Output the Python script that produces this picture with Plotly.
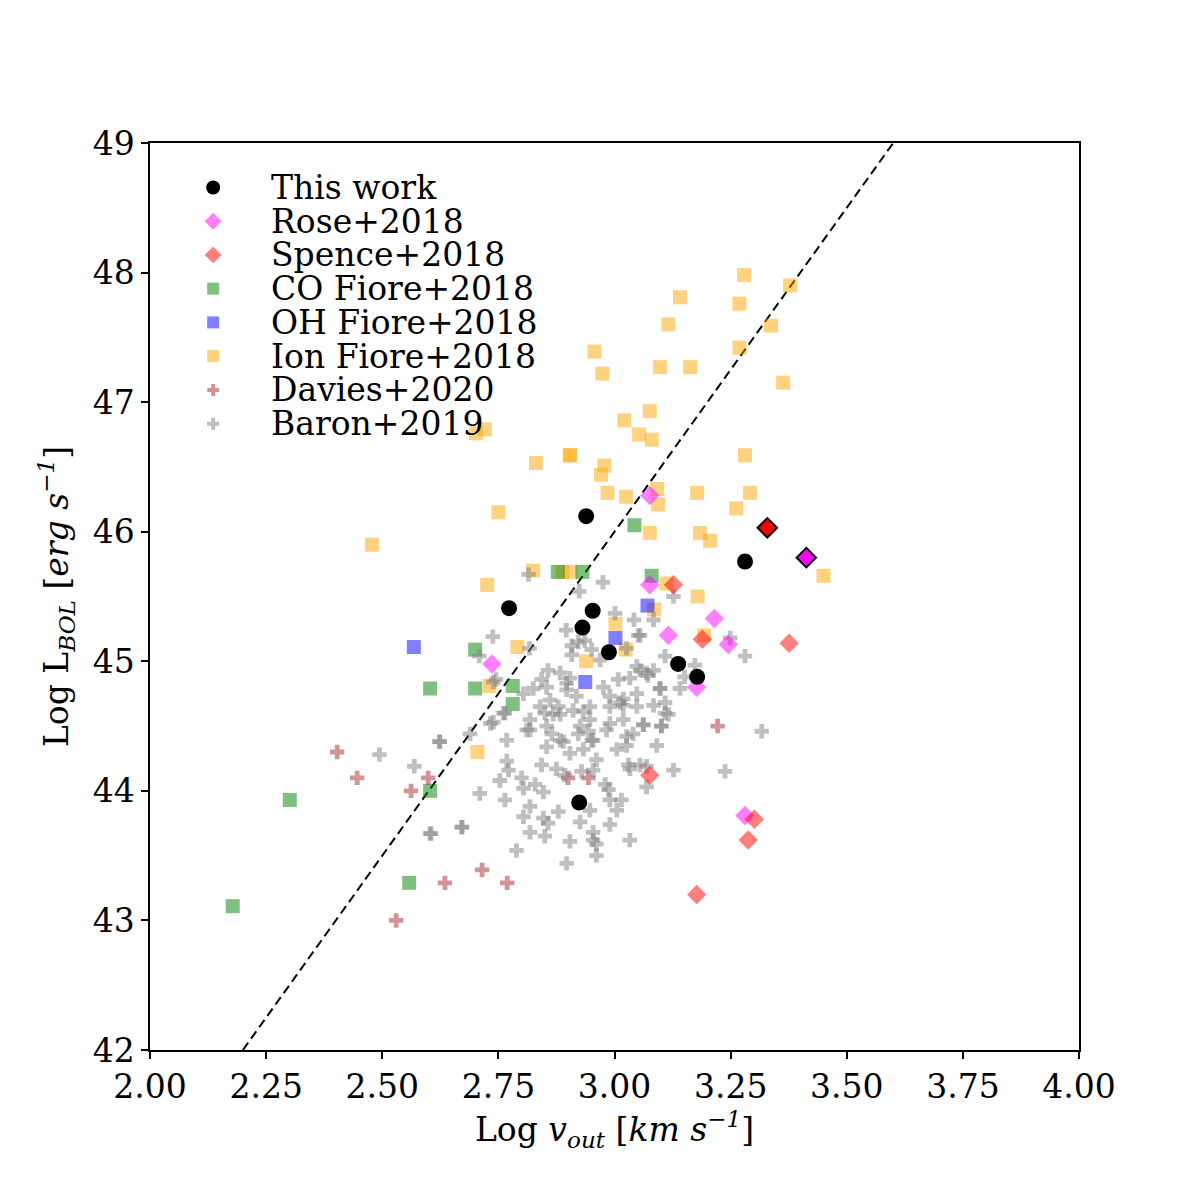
import plotly.graph_objects as go

# This work
this_x = [2.773, 2.939, 2.953, 2.931, 2.988, 3.137, 3.178, 3.281, 2.924]
this_y = [45.41, 46.12, 45.39, 45.26, 45.07, 44.98, 44.88, 45.77, 43.91]

# Rose+2018
rose_x = [3.076, 3.076, 3.215, 3.116, 3.245, 2.736, 3.177, 3.281]
rose_y = [46.28, 45.59, 45.33, 45.20, 45.13, 44.98, 44.80, 43.81]

# Spence+2018
spence_x = [3.127, 3.189, 3.376, 3.076, 3.301, 3.288, 3.177]
spence_y = [45.59, 45.17, 45.14, 44.12, 43.78, 43.62, 43.20]

# highlighted objects (outlined)
hl_red_x, hl_red_y = [3.329], [46.03]
hl_mag_x, hl_mag_y = [3.413], [45.80]

# CO Fiore+2018
co_x = [3.043, 3.080, 2.878, 2.931, 2.700, 2.603, 2.700, 2.781, 2.781, 2.301, 2.178, 2.603, 2.558]
co_y = [46.05, 45.66, 45.69, 45.69, 45.09, 44.79, 44.79, 44.81, 44.67, 43.93, 43.11, 44.00, 43.29]

# OH Fiore+2018
oh_x = [2.568, 3.071, 3.002, 2.937]
oh_y = [45.11, 45.43, 45.18, 44.84]

# Ion Fiore+2018
ion_x = [3.279, 3.378, 3.141, 3.269, 3.116, 3.337, 3.269, 2.957, 2.974, 3.098,
         3.163, 3.363, 3.076, 3.021, 3.053, 3.080, 2.702, 2.721, 2.904, 2.904,
         2.831, 2.978, 2.971, 3.281, 2.985, 3.025, 3.092, 3.094, 3.178, 3.292,
         3.262, 2.750, 3.076, 3.184, 3.206, 2.478, 2.825, 2.726, 3.179, 3.450,
         3.112, 3.085, 3.002, 3.024, 2.791, 2.939, 2.731, 3.193, 2.705, 2.888,
         2.905]
ion_y = [47.98, 47.90, 47.81, 47.76, 47.60, 47.59, 47.42, 47.39, 47.22, 47.27,
         47.27, 47.15, 46.93, 46.86, 46.75, 46.71, 46.76, 46.79, 46.59, 46.59,
         46.53, 46.51, 46.44, 46.59, 46.30, 46.27, 46.33, 46.21, 46.30, 46.30,
         46.18, 46.15, 45.99, 45.99, 45.93, 45.90, 45.70, 45.59, 45.50, 45.66,
         45.60, 45.40, 45.29, 45.09, 45.11, 45.00, 44.81, 45.20, 44.30, 45.69,
         45.69]

# Davies+2020
davies_x = [2.403, 2.446, 2.599, 2.562, 2.635, 2.715, 2.530, 2.769, 2.900, 2.944, 3.222]
davies_y = [44.30, 44.10, 44.10, 44.00, 43.29, 43.39, 43.00, 43.29, 44.10, 44.10, 44.50]

# Baron+2019
baron_x = [2.815, 2.975, 2.924, 2.896, 2.738, 2.817, 2.908, 2.936, 3.001, 3.042,
           3.055, 3.084, 3.109, 2.951, 2.969, 3.026, 3.048, 3.069, 3.033, 3.008,
           2.857, 2.883, 2.904, 2.843, 2.825, 2.804, 2.897, 2.918, 2.976, 2.990,
           3.019, 3.048, 3.098, 3.109, 2.861, 2.879, 2.947,
           2.739, 2.768, 2.818, 2.850, 2.883, 2.911, 2.933, 2.947, 2.865, 2.890,
           2.922, 2.944, 2.854, 2.904, 2.933, 2.961, 2.843, 2.875, 2.893, 2.929,
           2.954, 2.768, 2.772, 2.753, 2.800, 2.804, 2.829, 2.847, 2.818, 2.764,
           2.804, 2.847, 2.879, 2.818, 2.850, 2.857, 2.789, 2.904, 2.897, 2.926,
           2.947, 2.954, 2.961, 2.961, 2.987, 2.990, 3.005, 3.015, 2.990, 3.033,
           2.980, 2.990, 3.019, 3.040, 3.026, 3.062, 3.091, 3.101, 3.033, 3.055,
           3.069, 2.990, 3.019, 3.048, 3.084, 3.109,
           3.127, 3.249, 3.281, 3.173, 3.151, 3.141, 3.098, 3.116, 3.062, 3.101,
           3.069, 3.127, 3.238, 3.317, 3.084, 3.051, 3.055, 3.072, 3.030,
           2.624, 2.671, 2.603, 2.710, 2.764, 2.811, 2.954,
           2.494, 2.569, 2.623, 2.605, 2.672, 2.689, 2.733,
           2.709, 2.745, 2.922, 2.908, 2.761,
           2.739, 2.897, 2.854, 2.840, 2.868, 2.983, 3.012, 2.951, 2.818, 2.854,
           2.883, 2.926, 2.954, 3.005, 3.026]
baron_y = [45.67, 45.61, 45.54, 45.24, 45.19, 45.10, 45.12, 45.16, 45.37, 45.32,
           45.20, 45.32, 45.04, 45.09, 45.01, 45.10, 44.96, 44.91, 44.87, 44.86,
           44.93, 44.91, 44.87, 44.86, 44.79, 44.75, 44.78, 44.73, 44.80, 44.73,
           44.71, 44.75, 44.79, 44.68, 44.70, 44.65, 44.65,
           44.53, 44.39, 44.55, 44.60, 44.59, 44.62, 44.61, 44.55, 44.44, 44.38,
           44.44, 44.46, 44.34, 44.29, 44.32, 44.24, 44.20, 44.17, 44.12, 44.15,
           44.16, 44.23, 44.16, 44.08, 44.10, 44.02, 44.05, 43.99, 43.88, 43.93,
           43.80, 43.79, 43.84, 43.68, 43.65, 43.75, 43.54, 43.61, 43.44, 43.76,
           43.85, 43.68, 43.59, 43.50, 44.01, 43.93, 43.85, 43.93, 43.74, 43.62,
           44.05, 44.52, 44.55, 44.44, 44.35, 44.51, 44.35, 44.50, 44.17, 44.20,
           44.03, 44.65, 44.66, 44.65, 44.66, 44.60,
           45.50, 45.18, 45.04, 44.97, 44.88, 44.79, 44.79, 44.59, 44.51, 44.50,
           44.19, 44.16, 44.15, 44.46, 44.93, 45.20, 44.93, 44.89, 44.20,
           44.38, 43.72, 43.67, 43.98, 44.60, 44.47, 43.62,
           44.28, 44.19, 44.38, 43.67, 43.72, 44.44, 44.52,
           45.04, 44.86, 45.15, 45.05, 44.60,
           44.84, 44.83, 44.80, 44.65, 44.59, 44.47, 44.68, 44.39, 44.47, 44.50,
           44.39, 44.50, 44.39, 44.32, 44.42]

# dashed relation: L = 5 v + 31
line_x = [2.2, 3.6]
line_slope, line_icpt = 5.0, 31.0
line_y = [line_slope * v + line_icpt for v in line_x]

SERIF = "DejaVu Serif"
FS = 33  # 16pt @ 150dpi

# styles: name -> (symbol, size, color)
styles = {
    "This work":      ("circle", 16, "black"),
    "Rose+2018":      ("diamond", 15, "rgba(255,0,255,0.5)"),
    "Spence+2018":    ("diamond", 15, "rgba(255,0,0,0.5)"),
    "CO Fiore+2018":  ("square", 14, "rgba(0,128,0,0.5)"),
    "OH Fiore+2018":  ("square", 14, "rgba(0,0,255,0.5)"),
    "Ion Fiore+2018": ("square", 14, "rgba(255,165,0,0.5)"),
    "Davies+2020":    ("cross", 12, "rgba(165,42,42,0.5)"),
    "Baron+2019":     ("cross", 12, "rgba(128,128,128,0.5)"),
}
legend_order = list(styles.keys())

fig = go.Figure()

fig.add_trace(go.Scatter(x=line_x, y=line_y, mode="lines",
                         line=dict(color="black", width=2, dash="9px,5px"),
                         showlegend=False, hoverinfo="skip"))

def add_pts(x, y, name):
    sym, size, col = styles[name]
    fig.add_trace(go.Scatter(
        x=x, y=y, mode="markers", name=name, showlegend=False,
        marker=dict(symbol=sym, size=size, color=col, line=dict(width=0)),
    ))

# drawing order
add_pts(ion_x, ion_y, "Ion Fiore+2018")
add_pts(co_x, co_y, "CO Fiore+2018")
add_pts(oh_x, oh_y, "OH Fiore+2018")
add_pts(davies_x, davies_y, "Davies+2020")
add_pts(baron_x, baron_y, "Baron+2019")
add_pts(rose_x, rose_y, "Rose+2018")
add_pts(spence_x, spence_y, "Spence+2018")
add_pts(this_x, this_y, "This work")

fig.add_trace(go.Scatter(x=hl_red_x, y=hl_red_y, mode="markers", showlegend=False,
                         marker=dict(symbol="diamond", size=15, color="red",
                                     line=dict(color="black", width=2))))
fig.add_trace(go.Scatter(x=hl_mag_x, y=hl_mag_y, mode="markers", showlegend=False,
                         marker=dict(symbol="diamond", size=15, color="magenta",
                                     line=dict(color="black", width=2))))

# legend (matplotlib-style, tight rows) drawn on an overlay axis in axes fraction
leg_mx, leg_tx = 0.068, 0.1285
leg_top, leg_step = 0.951, 0.0372
for i, name in enumerate(legend_order):
    sym, size, col = styles[name]
    yy = leg_top - i * leg_step
    fig.add_trace(go.Scatter(x=[leg_mx], y=[yy], xaxis="x2", yaxis="y2",
                             mode="markers", showlegend=False, hoverinfo="skip",
                             marker=dict(symbol=sym, size=size - 2, color=col, line=dict(width=0))))
    fig.add_annotation(x=leg_tx, y=yy, xref="paper", yref="paper", text=name,
                       showarrow=False, xanchor="left", yanchor="middle",
                       font=dict(family=SERIF, size=FS, color="black"))

axis_common = dict(showline=True, linecolor="black", linewidth=1.5, mirror=True,
                   ticks="outside", ticklen=7, tickwidth=1.5, tickcolor="black",
                   showgrid=False, zeroline=False,
                   tickfont=dict(family=SERIF, size=FS, color="black"))

fig.update_layout(
    width=1200, height=1200,
    template="plotly_white",
    plot_bgcolor="white", paper_bgcolor="white",
    margin=dict(l=142, r=129, t=135, b=158),
    font=dict(family=SERIF, color="black"),
    xaxis=dict(range=[2.0, 4.0], tickvals=[2.0, 2.25, 2.5, 2.75, 3.0, 3.25, 3.5, 3.75, 4.0],
               tickformat=".2f",
               title=dict(text="Log <i>v<sub>out</sub></i> [<i>km s<sup>−1</sup></i>]",
                          font=dict(family=SERIF, size=FS), standoff=10),
               **axis_common),
    yaxis=dict(range=[42, 49], dtick=1,
               title=dict(text="Log L<sub><i>BOL</i></sub> [<i>erg s<sup>−1</sup></i>]",
                          font=dict(family=SERIF, size=FS), standoff=14),
               **axis_common),
    xaxis2=dict(range=[0, 1], overlaying="x", visible=False, fixedrange=True),
    yaxis2=dict(range=[0, 1], overlaying="y", visible=False, fixedrange=True),
    showlegend=False,
)

fig.write_html("out.html")
